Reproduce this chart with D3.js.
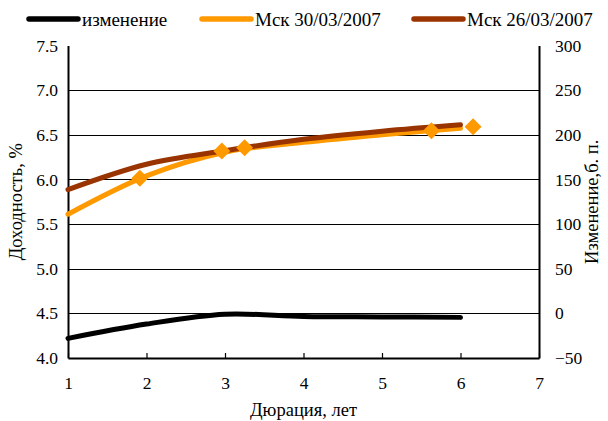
<!DOCTYPE html>
<html><head><meta charset="utf-8">
<script src="https://cdn.jsdelivr.net/npm/d3@7"></script>
<style>body{margin:0;background:#fff}svg{display:block}text{font-family:"Liberation Serif","Times New Roman",serif;fill:#000}</style>
</head><body><svg id="c" width="608" height="421"></svg>
<script>
const durations = [1, 2, 3, 4, 5, 6];
const change = [-28, -12, -1, -3.5, -4, -4.5];
const msk30 = [5.61, 6.04, 6.305, 6.415, 6.50, 6.573];
const msk26 = [5.886, 6.17, 6.322, 6.45, 6.54, 6.612];
const marketX = [1.915, 2.96, 3.25, 5.63, 6.16];
const marketY = [6.013, 6.318, 6.356, 6.546, 6.59];
const xTicks = [1, 2, 3, 4, 5, 6, 7];
const yTicks = [4.0, 4.5, 5.0, 5.5, 6.0, 6.5, 7.0, 7.5];
const y2Ticks = [-50, 0, 50, 100, 150, 200, 250, 300];
const seriesNames = ["изменение", "Мск 30/03/2007", "Мск 26/03/2007"];
const colors = ["#000000", "#FF9900", "#993300"];

const svg = d3.select("#c");
const L = 68, R = 539, T = 45.5, B = 358;
const x = d3.scaleLinear().domain([1, 7]).range([L, R]);
const y = d3.scaleLinear().domain([4, 7.5]).range([B, T]);
const y2 = d3.scaleLinear().domain([-50, 300]).range([B, T]);

// gridlines
svg.append("g").selectAll("line").data(yTicks.filter(d => d > 4 && d < 7.5)).join("line")
  .attr("x1", L).attr("x2", R).attr("y1", d => Math.round(y(d)) + 0.5).attr("y2", d => Math.round(y(d)) + 0.5)
  .attr("stroke", "#000").attr("stroke-width", 1);

// frame axes
const ax = svg.append("g").attr("transform", `translate(0,${B})`)
  .call(d3.axisBottom(x).tickValues(xTicks).tickSizeInner(-5).tickSizeOuter(0).tickPadding(19).tickFormat(d3.format("d")));
const ay = svg.append("g").attr("transform", `translate(${L},0)`)
  .call(d3.axisLeft(y).tickValues(yTicks).tickSize(0).tickPadding(10).tickFormat(d3.format(".1f")));
const ay2 = svg.append("g").attr("transform", `translate(${R},0)`)
  .call(d3.axisRight(y2).tickValues(y2Ticks).tickSize(0).tickPadding(16).tickFormat(d3.format("d")));
[ax, ay, ay2].forEach(g => {
  g.selectAll("path").attr("stroke", "#000").attr("stroke-width", 2);
  g.selectAll("line").attr("stroke", "#000").attr("stroke-width", 1.2);
  g.selectAll("text").style("font-size", "17.5px").style("font-family", '"Liberation Serif",serif');
});
ax.selectAll("text").attr("dy", "0.71em");

// lines
const line = (ys, sc) => d3.line().x((d, i) => x(durations[i])).y(d => sc(d)).curve(d3.curveCatmullRom)(ys);
svg.append("path").attr("d", line(change, y2)).attr("fill", "none").attr("stroke", colors[0])
  .attr("stroke-width", 5).attr("stroke-linecap", "round");
svg.append("path").attr("d", line(msk30, y)).attr("fill", "none").attr("stroke", colors[1])
  .attr("stroke-width", 5).attr("stroke-linecap", "round");
svg.append("path").attr("d", line(msk26, y)).attr("fill", "none").attr("stroke", colors[2])
  .attr("stroke-width", 5).attr("stroke-linecap", "round");

// diamonds
const r = 8.5;
svg.append("g").selectAll("path").data(marketX).join("path")
  .attr("d", (d, i) => {
    const cx = x(d), cy = y(marketY[i]);
    return `M${cx},${cy - r}L${cx + r},${cy}L${cx},${cy + r}L${cx - r},${cy}Z`;
  }).attr("fill", colors[1]);

// axis titles
svg.append("text").attr("transform", `translate(22,${(T + B) / 2}) rotate(-90)`)
  .attr("text-anchor", "middle").style("font-size", "18.5px").text("Доходность, %");
svg.append("text").attr("transform", `translate(598,${(T + B) / 2}) rotate(-90)`)
  .attr("text-anchor", "middle").style("font-size", "18.5px").text("Изменение,б. п.");
svg.append("text").attr("x", (L + R) / 2).attr("y", 416)
  .attr("text-anchor", "middle").style("font-size", "18.5px").text("Дюрация, лет");

// legend
const legX = [27, 200, 412];
const lg = svg.append("g").selectAll("g").data(seriesNames).join("g")
  .attr("transform", (d, i) => `translate(${legX[i]},19)`);
lg.append("line").attr("x1", 2).attr("x2", 51).attr("y1", 0).attr("y2", 0)
  .attr("stroke", (d, i) => colors[i]).attr("stroke-width", 5.5).attr("stroke-linecap", "round");
lg.append("text").attr("x", 55).attr("y", 6.5).style("font-size", "19px").text(d => d);
</script></body></html>
